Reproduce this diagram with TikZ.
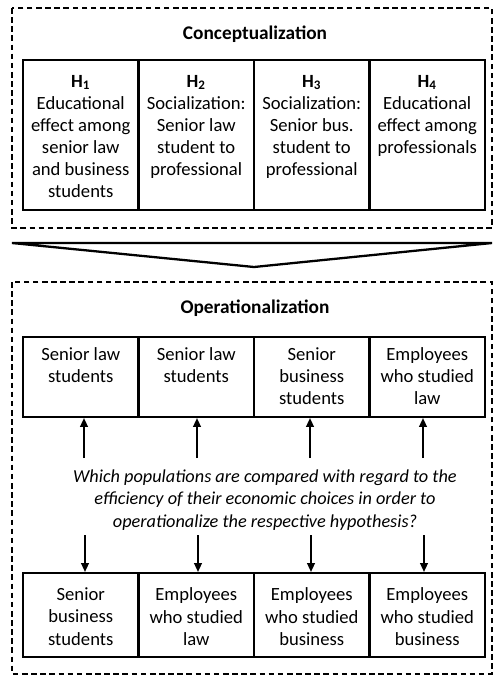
\documentclass[tikz,border=0pt]{standalone}
\usepackage{fontspec}
\setmainfont{Carlito}
\usetikzlibrary{arrows.meta}
\tikzset{frame/.style={draw, line width=1.3pt, dash pattern=on 3.2pt off 2pt},
  cell/.style={draw, line width=1.3pt, inner sep=0pt, minimum width=2.31cm, font=\fontsize{10.6}{12.6}\selectfont},
  title/.style={font=\fontsize{11}{13}\selectfont\bfseries},
  link/.style={-{Triangle[width=4.5pt,length=5pt]}, line width=0.7pt}}
\newcommand{\celltext}[3][8.5pt]{\parbox[c][#2][t]{2.31cm}{\centering\vspace*{#1}#3}}

\begin{document}
\begin{tikzpicture}[x=0.02cm, y=-0.02cm]
                    \useasboundingbox (0,0) rectangle (495,677);

                    \draw[frame] (12,8) rectangle (492,228);
                    \draw[frame] (12,282) rectangle (492,674);

                    \node[title] (concept) at (255,34) {Conceptualization};
                    \node[title] (oper) at (255,308) {Operationalization};

                    \node[cell] (h1) at (80.75,135) {\celltext{3cm}{\textbf{H\textsubscript{1}}\\Educational\\effect among\\senior law\\and business\\students}};
                    \node[cell] (h2) at (196.25,135) {\celltext{3cm}{\textbf{H\textsubscript{2}}\\Socialization:\\Senior law\\student to\\professional}};
                    \node[cell] (h3) at (311.75,135) {\celltext{3cm}{\textbf{H\textsubscript{3}}\\Socialization:\\Senior bus.\\student to\\professional}};
                    \node[cell] (h4) at (427.25,135) {\celltext{3cm}{\textbf{H\textsubscript{4}}\\Educational\\effect among\\professionals}};

                    \draw[line width=1.3pt, line join=miter] (12,243) -- (492,243) -- (254,267) -- cycle;

                    \node[cell] (o1) at (80.75,377) {\celltext[6pt]{1.6cm}{Senior law\\students}};
                    \node[cell] (o2) at (196.25,377) {\celltext[6pt]{1.6cm}{Senior law\\students}};
                    \node[cell] (o3) at (311.75,377) {\celltext[6pt]{1.6cm}{Senior\\business\\students}};
                    \node[cell] (o4) at (427.25,377) {\celltext[6pt]{1.6cm}{Employees\\who studied\\law}};

                    \node[align=center, font=\fontsize{10.4}{12.7}\selectfont\itshape] (q) at (265,500)
                        {Which populations are compared with regard to the\\efficiency of their economic choices in order to\\operationalize the respective hypothesis?};

                    \node[cell] (b1) at (80.75,615) {\celltext{1.68cm}{Senior\\business\\students}};
                    \node[cell] (b2) at (196.25,615) {\celltext{1.68cm}{Employees\\who studied\\law}};
                    \node[cell] (b3) at (311.75,615) {\celltext{1.68cm}{Employees\\who studied\\business}};
                    \node[cell] (b4) at (427.25,615) {\celltext{1.68cm}{Employees\\who studied\\business}};

                    \coordinate (u1) at (84,458);
                    \coordinate (u2) at (197,458);
                    \coordinate (u3) at (310,458);
                    \coordinate (u4) at (423,458);
                    \coordinate (d1) at (85,535);
                    \coordinate (d2) at (198,535);
                    \coordinate (d3) at (311,535);
                    \coordinate (d4) at (424,535);

                    \draw[link] (u1) -- (u1 |- o1.south);
                    \draw[link] (u2) -- (u2 |- o2.south);
                    \draw[link] (u3) -- (u3 |- o3.south);
                    \draw[link] (u4) -- (u4 |- o4.south);

                    \draw[link] (d1) -- (d1 |- b1.north);
                    \draw[link] (d2) -- (d2 |- b2.north);
                    \draw[link] (d3) -- (d3 |- b3.north);
                    \draw[link] (d4) -- (d4 |- b4.north);

                 \end{tikzpicture}
\end{document}
